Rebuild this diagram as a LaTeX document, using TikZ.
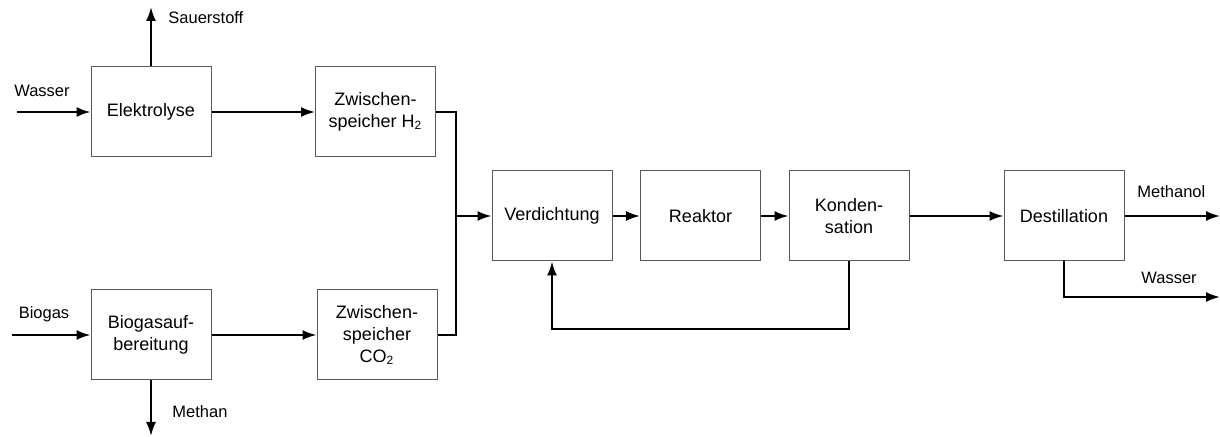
\documentclass[tikz,border=0pt]{standalone}
\usepackage{fontspec}
\setmainfont{Liberation Sans}
\usetikzlibrary{arrows.meta}

\begin{document}
\begin{tikzpicture}[x=0.5pt,y=-0.5pt,
	process_box/.style={rectangle,draw=black!65,line width=0.5pt,minimum width=60pt,minimum height=45pt,inner sep=0pt,align=center,font=\fontsize{9}{11}\selectfont},
	stream_label/.style={inner sep=0pt,font=\fontsize{8.25}{10}\selectfont},
	flow/.style={line width=1pt,-{Latex[length=7pt,width=5pt]}},
	pipe/.style={line width=1pt}]

		\useasboundingbox (0,0) rectangle (1220,437);

		\node[process_box] (elyse) at (151,112) {Elektrolyse};
		\node[process_box] (h2) at (375.5,112) {Zwischen-\\speicher H\textsubscript{2}};
		\node[process_box] (bga) at (151,335) {Biogasauf-\\bereitung};
		\node[process_box] (co2) at (377,335) {Zwischen-\\speicher\\CO\textsubscript{2}};
		\node[process_box] (verd) at (552,216) {Verdichtung};
		\node[process_box] (reak) at (700.5,216) {Reaktor};
		\node[process_box] (kond) at (849,216) {Konden-\\sation};
		\node[process_box] (dest) at (1064,216) {Destillation};

		\coordinate (w_in) at (17,112);
		\coordinate (o2_out) at (151,7);
		\coordinate (bg_in) at (12,335);
		\coordinate (ch4_out) at (151,436);
		\coordinate (merge) at (456,216);
		\coordinate (loop) at (849,329);
		\coordinate (meoh_out) at (1220,216);
		\coordinate (h2o_out) at (1220,297);

		\node[stream_label] (l_w) at (42,91) {Wasser};
		\node[stream_label,anchor=west] (l_o2) at (168,18) {Sauerstoff};
		\node[stream_label] (l_bg) at (44,314) {Biogas};
		\node[stream_label,anchor=west] (l_ch4) at (172,412) {Methan};
		\node[stream_label,anchor=west] (l_meoh) at (1137,192) {Methanol};
		\node[stream_label,anchor=west] (l_h2o) at (1141,278) {Wasser};

		\draw[flow] (w_in) -- (elyse.west);
		\draw[flow] (elyse.north) -- (o2_out);
		\draw[flow] (elyse.east) -- (h2.west);
		\draw[flow] (bg_in) -- (bga.west);
		\draw[flow] (bga.south) -- (ch4_out);
		\draw[flow] (bga.east) -- (co2.west);
		\draw[pipe] (co2.east) -| (merge);
		\draw[flow] (h2.east) -| (merge) -- (verd.west);
		\draw[flow] (verd) -- (reak);
		\draw[flow] (reak) -- (kond);
		\draw[flow] (kond) -- (dest);
		\draw[flow] (kond.south) -- (loop) -| (verd.south);
		\draw[flow] (dest) -- (meoh_out);
		\draw[flow] (dest.south) |- (h2o_out);
\end{tikzpicture}
\end{document}
